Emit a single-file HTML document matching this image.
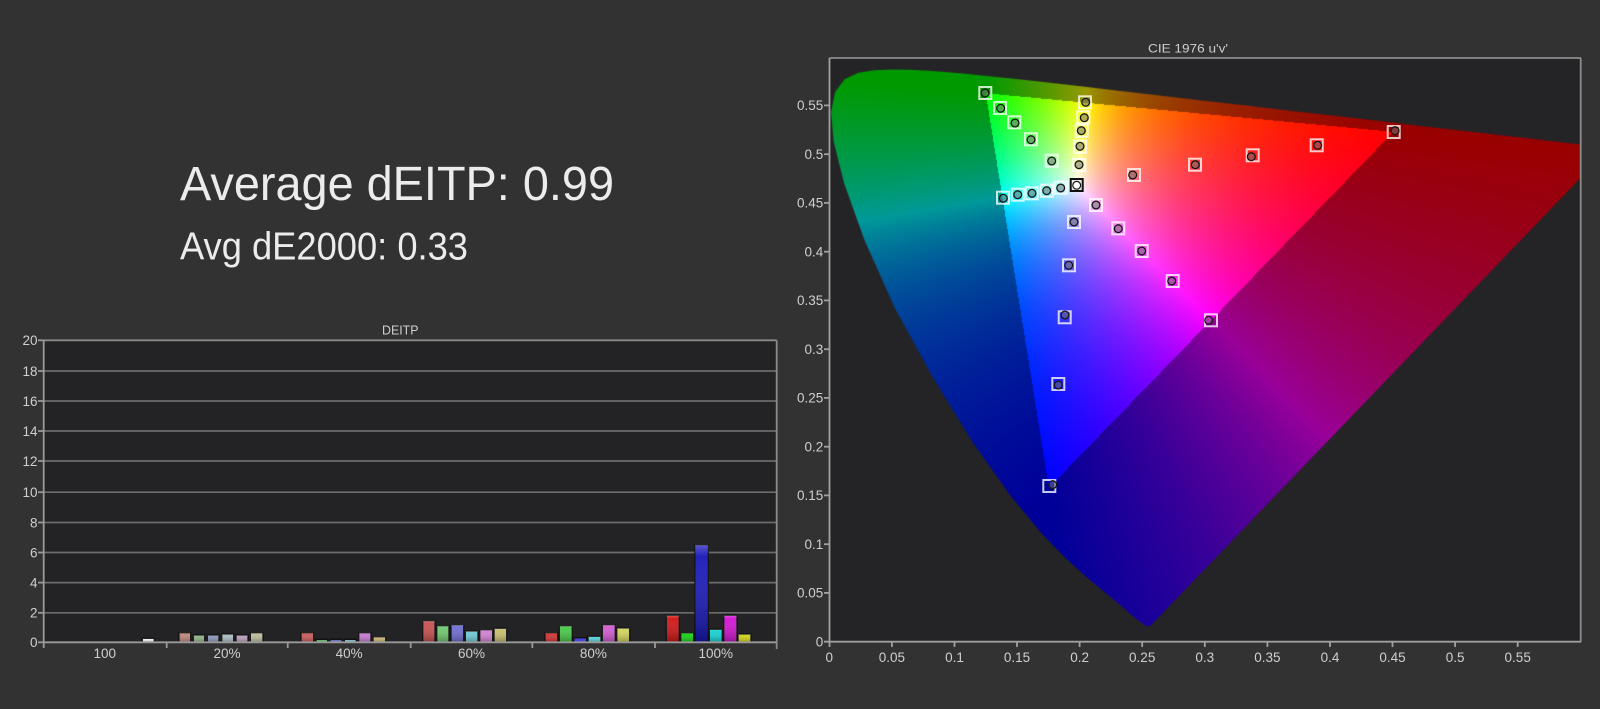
<!DOCTYPE html>
<html><head><meta charset="utf-8">
<style>
html,body{margin:0;padding:0;background:#323232;width:1600px;height:709px;overflow:hidden;}
#wrap{position:relative;width:1600px;height:709px;background:#323232;}
svg{position:absolute;left:0;top:0;}
#base{z-index:0;}
#cie{position:absolute;left:830px;top:58px;z-index:1;}
#over{z-index:2;}
text{font-family:"Liberation Sans",sans-serif;}
</style></head><body><div id="wrap">
<svg id="base" width="1600" height="709" viewBox="0 0 1600 709">
<defs>
<linearGradient id="shade" x1="0" y1="0" x2="0" y2="1">
<stop offset="0" stop-color="#fff" stop-opacity="0.28"/>
<stop offset="0.12" stop-color="#fff" stop-opacity="0.05"/>
<stop offset="1" stop-color="#000" stop-opacity="0.3"/>
</linearGradient>
</defs>
<!-- big text -->
<text x="180" y="200" font-size="48" textLength="434" lengthAdjust="spacingAndGlyphs" fill="#ececec">Average dEITP: 0.99</text>
<text x="180" y="259.3" font-size="39" textLength="288" lengthAdjust="spacingAndGlyphs" fill="#ececec">Avg dE2000: 0.33</text>

<!-- BAR CHART -->
<rect x="43.7" y="340.3" width="733" height="302" fill="#232325"/>
<text x="382" y="334.3" font-size="12.5" textLength="36.5" lengthAdjust="spacingAndGlyphs" fill="#cfcfcf">DEITP</text>
<g stroke="#6c6c6c" stroke-width="1.7">
<line x1="44" y1="371" x2="776.7" y2="371"/>
<line x1="44" y1="401" x2="776.7" y2="401"/>
<line x1="44" y1="431" x2="776.7" y2="431"/>
<line x1="44" y1="461" x2="776.7" y2="461"/>
<line x1="44" y1="492.2" x2="776.7" y2="492.2"/>
<line x1="44" y1="522.5" x2="776.7" y2="522.5"/>
<line x1="44" y1="552.5" x2="776.7" y2="552.5"/>
<line x1="44" y1="582.6" x2="776.7" y2="582.6"/>
<line x1="44" y1="612.8" x2="776.7" y2="612.8"/>
</g>
<g stroke="#8a8a8a" stroke-width="1.8" fill="none">
<line x1="43.7" y1="340.3" x2="776.7" y2="340.3"/>
<line x1="776.7" y1="340.3" x2="776.7" y2="649"/>
</g>
<!-- bars -->
<g stroke="#111" stroke-width="1.4">
<rect x="142.3" y="638.3" width="12" height="4" fill="#f2f2f2"/>

<rect x="179" y="632.7" width="11.7" height="9.6" fill="#bd857a"/>
<rect x="193.3" y="635" width="11.4" height="7.3" fill="#8cb484"/>
<rect x="207.3" y="635" width="11.7" height="7.3" fill="#8c96bc"/>
<rect x="221.7" y="634" width="12" height="8.3" fill="#a9bcc2"/>
<rect x="236" y="635" width="12" height="7.3" fill="#bc9cbc"/>
<rect x="250.3" y="632.7" width="12.7" height="9.6" fill="#c0bca0"/>

<rect x="301" y="632.7" width="12.7" height="9.6" fill="#c85a5a"/>
<rect x="316" y="639.3" width="11.7" height="3" fill="#64b464"/>
<rect x="330" y="639.3" width="12" height="3" fill="#6474be"/>
<rect x="344.3" y="639.3" width="12" height="3" fill="#82b4c8"/>
<rect x="358.7" y="632.7" width="12.3" height="9.6" fill="#c878d2"/>
<rect x="373" y="636.7" width="12.7" height="5.6" fill="#c8b478"/>

<rect x="422.7" y="620.7" width="12.3" height="21.6" fill="#c85050"/>
<rect x="436.7" y="625.7" width="12.3" height="16.6" fill="#6ec86e"/>
<rect x="451" y="624.7" width="12.7" height="17.6" fill="#6e6ed2"/>
<rect x="465.3" y="631" width="12.7" height="11.3" fill="#6ec8d2"/>
<rect x="479.7" y="629.7" width="13" height="12.6" fill="#d282d2"/>
<rect x="494" y="628.3" width="12.7" height="14" fill="#c8be6e"/>

<rect x="545" y="632.7" width="12.7" height="9.6" fill="#d23232"/>
<rect x="559.3" y="625.7" width="13" height="16.6" fill="#46c846"/>
<rect x="573.7" y="637.7" width="13" height="4.6" fill="#4646dc"/>
<rect x="588" y="636.3" width="13" height="6" fill="#50d2dc"/>
<rect x="602.3" y="624.7" width="13" height="17.6" fill="#d25ad2"/>
<rect x="616.7" y="628" width="13" height="14.3" fill="#d2d25a"/>

<rect x="666.3" y="615.3" width="13" height="27" fill="#d21414"/>
<rect x="680.7" y="632.7" width="13" height="9.6" fill="#14d214"/>
<rect x="695" y="544.7" width="13.3" height="97.6" fill="#1818b8"/>
<rect x="709.3" y="629.3" width="13" height="13" fill="#14d2d2"/>
<rect x="723.7" y="615.3" width="13.3" height="27" fill="#d214d2"/>
<rect x="738" y="634" width="13" height="8.3" fill="#d2d214"/>
</g>
<g fill="url(#shade)">
<rect x="142.3" y="638.3" width="12" height="4"/>
<rect x="179" y="632.7" width="11.7" height="9.6"/>
<rect x="193.3" y="635" width="11.4" height="7.3"/>
<rect x="207.3" y="635" width="11.7" height="7.3"/>
<rect x="221.7" y="634" width="12" height="8.3"/>
<rect x="236" y="635" width="12" height="7.3"/>
<rect x="250.3" y="632.7" width="12.7" height="9.6"/>
<rect x="301" y="632.7" width="12.7" height="9.6"/>
<rect x="358.7" y="632.7" width="12.3" height="9.6"/>
<rect x="373" y="636.7" width="12.7" height="5.6"/>
<rect x="422.7" y="620.7" width="12.3" height="21.6"/>
<rect x="436.7" y="625.7" width="12.3" height="16.6"/>
<rect x="451" y="624.7" width="12.7" height="17.6"/>
<rect x="465.3" y="631" width="12.7" height="11.3"/>
<rect x="479.7" y="629.7" width="13" height="12.6"/>
<rect x="494" y="628.3" width="12.7" height="14"/>
<rect x="545" y="632.7" width="12.7" height="9.6"/>
<rect x="559.3" y="625.7" width="13" height="16.6"/>
<rect x="588" y="636.3" width="13" height="6"/>
<rect x="602.3" y="624.7" width="13" height="17.6"/>
<rect x="616.7" y="628" width="13" height="14.3"/>
<rect x="666.3" y="615.3" width="13" height="27"/>
<rect x="680.7" y="632.7" width="13" height="9.6"/>
<rect x="695" y="544.7" width="13.3" height="97.6"/>
<rect x="709.3" y="629.3" width="13" height="13"/>
<rect x="723.7" y="615.3" width="13.3" height="27"/>
<rect x="738" y="634" width="13" height="8.3"/>
</g>
<!-- axes -->
<g stroke="#9a9a9a" stroke-width="1.8">
<line x1="43.7" y1="340.3" x2="43.7" y2="648"/>
<line x1="43.7" y1="642.3" x2="776.7" y2="642.3"/>
<line x1="38" y1="340.3" x2="43.7" y2="340.3"/>
<line x1="38" y1="371" x2="43.7" y2="371"/>
<line x1="38" y1="401" x2="43.7" y2="401"/>
<line x1="38" y1="431" x2="43.7" y2="431"/>
<line x1="38" y1="461" x2="43.7" y2="461"/>
<line x1="38" y1="492.2" x2="43.7" y2="492.2"/>
<line x1="38" y1="522.5" x2="43.7" y2="522.5"/>
<line x1="38" y1="552.5" x2="43.7" y2="552.5"/>
<line x1="38" y1="582.6" x2="43.7" y2="582.6"/>
<line x1="38" y1="612.8" x2="43.7" y2="612.8"/>
<line x1="38" y1="642.3" x2="43.7" y2="642.3"/>
<line x1="166.7" y1="642.3" x2="166.7" y2="648"/>
<line x1="287.7" y1="642.3" x2="287.7" y2="648"/>
<line x1="410.7" y1="642.3" x2="410.7" y2="648"/>
<line x1="532.3" y1="642.3" x2="532.3" y2="648"/>
<line x1="655" y1="642.3" x2="655" y2="648"/>
</g>
<g font-size="13.5" fill="#cfcfcf" text-anchor="end">
<text x="37.5" y="345.1">20</text>
<text x="37.5" y="375.8">18</text>
<text x="37.5" y="405.8">16</text>
<text x="37.5" y="435.8">14</text>
<text x="37.5" y="465.8">12</text>
<text x="37.5" y="497">10</text>
<text x="37.5" y="527.3">8</text>
<text x="37.5" y="557.3">6</text>
<text x="37.5" y="587.4">4</text>
<text x="37.5" y="617.6">2</text>
<text x="37.5" y="647.1">0</text>
</g>
<g font-size="13.5" fill="#cfcfcf" text-anchor="middle">
<text x="104.8" y="658">100</text>
<text x="227" y="658">20%</text>
<text x="349.1" y="658">40%</text>
<text x="471.5" y="658">60%</text>
<text x="593.4" y="658">80%</text>
<text x="715.8" y="658">100%</text>
</g>

<!-- CIE -->
<rect x="830" y="58" width="751" height="583.7" fill="#242426"/>
<text x="1148" y="52.3" font-size="12" textLength="80" lengthAdjust="spacingAndGlyphs" fill="#cfcfcf">CIE 1976 u'v'</text>
<g font-size="13.5" fill="#cfcfcf" text-anchor="end">
<text x="823.3" y="646.5">0</text>
<text x="823.3" y="597.7">0.05</text>
<text x="823.3" y="549">0.1</text>
<text x="823.3" y="500.2">0.15</text>
<text x="823.3" y="451.5">0.2</text>
<text x="823.3" y="402.7">0.25</text>
<text x="823.3" y="354">0.3</text>
<text x="823.3" y="305.2">0.35</text>
<text x="823.3" y="256.5">0.4</text>
<text x="823.3" y="207.7">0.45</text>
<text x="823.3" y="159">0.5</text>
<text x="823.3" y="110.2">0.55</text>
</g>
<g font-size="13.5" fill="#cfcfcf" text-anchor="middle">
<text x="829.3" y="661.8">0</text>
<text x="891.9" y="661.8">0.05</text>
<text x="954.5" y="661.8">0.1</text>
<text x="1017" y="661.8">0.15</text>
<text x="1079.6" y="661.8">0.2</text>
<text x="1142.2" y="661.8">0.25</text>
<text x="1204.8" y="661.8">0.3</text>
<text x="1267.4" y="661.8">0.35</text>
<text x="1330" y="661.8">0.4</text>
<text x="1392.5" y="661.8">0.45</text>
<text x="1455.1" y="661.8">0.5</text>
<text x="1517.7" y="661.8">0.55</text>
</g>
</svg>

<canvas id="cie" width="751" height="583"></canvas>

<svg id="over" width="1600" height="709" viewBox="0 0 1600 709">
<g stroke="#8c8c8c" stroke-width="1.8" fill="none">
<line x1="829.5" y1="58" x2="1581" y2="58"/>
<line x1="1580.7" y1="58" x2="1580.7" y2="642"/>
</g>
<g stroke="#a0a0a0" stroke-width="1.8">
<line x1="829.5" y1="58" x2="829.5" y2="647"/>
<line x1="824" y1="641.7" x2="1581" y2="641.7"/>
<line x1="824" y1="592.9" x2="829.5" y2="592.9"/>
<line x1="824" y1="544.2" x2="829.5" y2="544.2"/>
<line x1="824" y1="495.4" x2="829.5" y2="495.4"/>
<line x1="824" y1="446.7" x2="829.5" y2="446.7"/>
<line x1="824" y1="397.9" x2="829.5" y2="397.9"/>
<line x1="824" y1="349.2" x2="829.5" y2="349.2"/>
<line x1="824" y1="300.4" x2="829.5" y2="300.4"/>
<line x1="824" y1="251.7" x2="829.5" y2="251.7"/>
<line x1="824" y1="202.9" x2="829.5" y2="202.9"/>
<line x1="824" y1="154.2" x2="829.5" y2="154.2"/>
<line x1="824" y1="105.4" x2="829.5" y2="105.4"/>
<line x1="891.9" y1="641.7" x2="891.9" y2="647"/>
<line x1="954.5" y1="641.7" x2="954.5" y2="647"/>
<line x1="1017" y1="641.7" x2="1017" y2="647"/>
<line x1="1079.6" y1="641.7" x2="1079.6" y2="647"/>
<line x1="1142.2" y1="641.7" x2="1142.2" y2="647"/>
<line x1="1204.8" y1="641.7" x2="1204.8" y2="647"/>
<line x1="1267.4" y1="641.7" x2="1267.4" y2="647"/>
<line x1="1330" y1="641.7" x2="1330" y2="647"/>
<line x1="1392.5" y1="641.7" x2="1392.5" y2="647"/>
<line x1="1455.1" y1="641.7" x2="1455.1" y2="647"/>
<line x1="1517.7" y1="641.7" x2="1517.7" y2="647"/>
</g>
<g id="markers"></g>
</svg>
</div>
<script>
(function(){
var L=[[0.1741,0.0050],[0.1740,0.0050],[0.1738,0.0049],[0.1736,0.0049],[0.1733,0.0048],[0.1730,0.0048],[0.1726,0.0048],[0.1721,0.0048],[0.1714,0.0051],[0.1703,0.0058],[0.1689,0.0069],[0.1669,0.0086],[0.1644,0.0109],[0.1611,0.0138],[0.1566,0.0177],[0.1510,0.0227],[0.1440,0.0297],[0.1355,0.0399],[0.1241,0.0578],[0.1096,0.0868],[0.0913,0.1327],[0.0687,0.2007],[0.0454,0.2950],[0.0235,0.4127],[0.0082,0.5384],[0.0039,0.6548],[0.0139,0.7502],[0.0389,0.8120],[0.0743,0.8338],[0.1142,0.8262],[0.1547,0.8059],[0.1929,0.7816],[0.2296,0.7543],[0.2658,0.7243],[0.3016,0.6923],[0.3373,0.6589],[0.3731,0.6245],[0.4087,0.5896],[0.4441,0.5547],[0.4788,0.5202],[0.5125,0.4866],[0.5448,0.4544],[0.5752,0.4242],[0.6029,0.3965],[0.6270,0.3725],[0.6482,0.3514],[0.6658,0.3340],[0.6801,0.3197],[0.6915,0.3083],[0.7006,0.2993],[0.7079,0.2920],[0.7140,0.2859],[0.7190,0.2809],[0.7230,0.2770],[0.7260,0.2740],[0.7283,0.2717],[0.7300,0.2700],[0.7311,0.2689],[0.7320,0.2680],[0.7334,0.2666],[0.7344,0.2656],[0.7347,0.2653]];
var W=751,H=583,OX=829.3-830,SX=1251.6,OY=641.7-58,SY=975;
var c=document.getElementById('cie');
if(c&&c.getContext){
var ctx=c.getContext('2d');
var off=document.createElement('canvas');off.width=W;off.height=H;
var octx=off.getContext('2d');var im=octx.createImageData(W,H);var d=im.data;
for(var j=0;j<H;j++){var v=(OY-(j+0.5))/SY;if(v<0.0005)v=0.0005;
 for(var i=0;i<W;i++){var u=(i+0.5-OX)/SX;if(u<0.0005)u=0.0005;
  var den=6*u-16*v+12,x=9*u/den,y=4*v/den;
  var X=x/y,Z=(1-x-y)/y;
  var r=3.2406*X-1.5372-0.4986*Z,g=-0.9689*X+1.8758+0.0415*Z,b=0.0557*X-0.2040+1.0570*Z;
  var f=1;if(r<0||g<0||b<0){f=0.6;if(r<0)r=0;if(g<0)g=0;if(b<0)b=0;}
  var m=Math.max(r,g,b);if(m<=0)m=1;
  var k=(j*W+i)*4;d[k]=r/m*255*f;d[k+1]=g/m*255*f;d[k+2]=b/m*255*f;d[k+3]=255;}}
octx.putImageData(im,0,0);
ctx.save();ctx.beginPath();
for(var n=0;n<L.length;n++){var xx=L[n][0],yy=L[n][1],dd=-2*xx+12*yy+3;var uu=4*xx/dd,vv=9*yy/dd;var px=OX+uu*SX,py=OY-vv*SY;if(n==0)ctx.moveTo(px,py);else ctx.lineTo(px,py);}
ctx.closePath();ctx.clip();ctx.drawImage(off,0,0);ctx.restore();
}
var M=[
[985.3,93,985,93],[1000,108,1000.7,108.3],[1014.3,122.3,1015,123],[1031,139.3,1031,139.7],[1051.7,160.7,1051.7,161],
[1085,102.3,1085.7,102.3],[1083.3,117.3,1084.3,117.7],[1081.7,130.7,1081.3,130.7],[1080,146.7,1080,146.3],[1079.3,165,1079,164.7],
[1060.7,187.7,1060.7,188],[1046.7,190.7,1046.7,190.7],[1031.7,193.3,1032,193.3],[1017.7,194.7,1017.7,194.7],[1003,197.7,1003.3,198.3],
[1096,205,1096,205],[1118.3,228.3,1118.3,228.7],[1141.7,251,1141.7,251],[1172.7,281,1171.7,281],[1211,320.3,1208.7,320.3],
[1074,222,1074,222],[1069,265.3,1068.7,265.3],[1064.7,317.3,1065,315],[1058.3,384,1058.3,385],[1049.3,486,1052.7,484.7],
[1134,175,1132.7,175],[1195,164.7,1195.3,164.7],[1252.7,155.3,1251.3,156.7],[1316.7,145.3,1317.7,145.3],[1393.7,132,1395,130.7]
];
var ns='http://www.w3.org/2000/svg',g=document.getElementById('markers');
function el(t,a){var e=document.createElementNS(ns,t);for(var q in a)e.setAttribute(q,a[q]);g.appendChild(e);}
for(var p=0;p<M.length;p++){var s=M[p];
 el('rect',{x:s[0]-6,y:s[1]-6,width:12,height:12,fill:'none',stroke:'rgba(255,255,255,0.78)','stroke-width':2});
 el('circle',{cx:s[2],cy:s[3],r:3.9,fill:'rgba(110,110,110,0.55)',stroke:'#151515','stroke-width':1.3});}
el('rect',{x:1076.7-6,y:185-6,width:12,height:12,fill:'#e8e8e8',stroke:'#111','stroke-width':2});
el('circle',{cx:1076.7,cy:185.3,r:3.9,fill:'#ffffff',stroke:'#151515','stroke-width':1.2});
})();
</script>
</body></html>
